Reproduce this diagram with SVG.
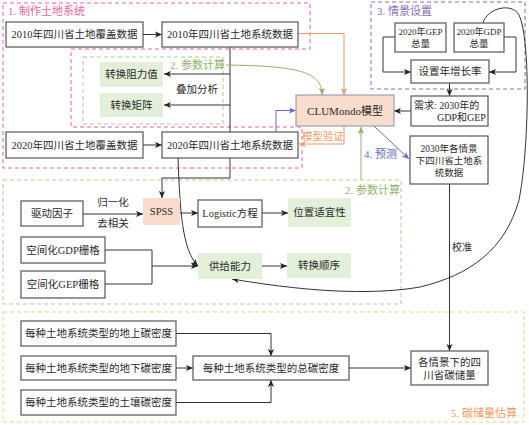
<svg xmlns="http://www.w3.org/2000/svg" width="529" height="425" viewBox="0 0 529 425">
<defs>
<style>
text{font-family:"Liberation Serif","Noto Sans CJK SC",serif;fill:#2a2a2a;dominant-baseline:central}
.t{font-size:10.5px;text-anchor:middle}
.s{font-size:9.5px;text-anchor:middle}
.box{fill:#fff;stroke:#555;stroke-width:1.2}
.gbox{fill:#e2efd9;stroke:none}
.pbox{fill:#f8ddcc;stroke:none}
.ln{fill:none;stroke:#333;stroke-width:1}
.grp{fill:none;stroke-width:1;stroke-dasharray:4 3}
.lbl{font-size:11px}
</style>
<marker id="ak" viewBox="0 0 8 8" refX="8" refY="4" markerWidth="7" markerHeight="7" markerUnits="userSpaceOnUse" orient="auto"><path d="M0,0.5 L8,4 L0,7.5 L2,4 Z" fill="#222"/></marker>
<marker id="ao" viewBox="0 0 8 8" refX="8" refY="4" markerWidth="7" markerHeight="7" markerUnits="userSpaceOnUse" orient="auto"><path d="M0,0.5 L8,4 L0,7.5 L2,4 Z" fill="#ef9a6a"/></marker>
<marker id="ag" viewBox="0 0 8 8" refX="8" refY="4" markerWidth="7" markerHeight="7" markerUnits="userSpaceOnUse" orient="auto"><path d="M0,0.5 L8,4 L0,7.5 L2,4 Z" fill="#8fb36a"/></marker>
<marker id="ab" viewBox="0 0 8 8" refX="8" refY="4" markerWidth="7" markerHeight="7" markerUnits="userSpaceOnUse" orient="auto"><path d="M0,0.5 L8,4 L0,7.5 L2,4 Z" fill="#5a6fc0"/></marker>
</defs>

<g id="groups">
<path class="grp" stroke="#e8619f" d="M3,3 H310 V49 H71 V127 H302 V168 H3 Z"/>
<text class="lbl" x="8" y="11" style="fill:#e8619f">1. 制作土地系统</text>
<rect class="grp" stroke="#b5c98f" x="83" y="57" width="140" height="67"/>
<text class="lbl" x="170" y="65" style="fill:#8fb36a">2. 参数计算</text>
<rect class="grp" stroke="#8a68b8" x="371" y="2" width="154" height="87"/>
<text class="lbl" x="377" y="10.5" style="fill:#8a68b8">3. 情景设置</text>
<rect class="grp" stroke="#b5c98f" x="3" y="180" width="398" height="124"/>
<text class="lbl" x="345" y="190" style="fill:#8fb36a">2. 参数计算</text>
<rect class="grp" stroke="#f2cf7e" stroke-dasharray="3 3" x="3" y="312" width="521" height="110"/>
<text class="lbl" x="451" y="413" style="fill:#ee9a63">5. 碳储量估算</text>
</g>

<g id="connectors">
<line class="ln" x1="143" y1="34.5" x2="162" y2="34.5" marker-end="url(#ak)"/>
<line class="ln" x1="143" y1="145" x2="162" y2="145" marker-end="url(#ak)"/>
<line class="ln" x1="230" y1="47" x2="230" y2="132"/>
<line class="ln" x1="230" y1="74" x2="164" y2="74" marker-end="url(#ak)"/>
<line class="ln" x1="230" y1="105" x2="164" y2="105" marker-end="url(#ak)"/>
<text x="197" y="89" class="t">叠加分析</text>
<path class="ln" d="M230,158 V178 H162 V198" marker-end="url(#ak)"/>
<path d="M298,33.5 H344 V95" fill="none" stroke="#ef9a6a" stroke-width="1" marker-end="url(#ao)"/>
<path d="M226,65 C300,66 322,72 322,95" fill="none" stroke="#8fb36a" stroke-width="1" marker-end="url(#ag)"/>
<path d="M276,132 V110.5 H296" fill="none" stroke="#5a6fc0" stroke-width="1" marker-end="url(#ab)"/>
<path d="M344,126 V144 H299" fill="none" stroke="#ef9a6a" stroke-width="1" marker-end="url(#ao)"/>
<text x="302" y="136" style="font-size:10.5px;fill:#ee9a63">模型验证</text>
<line x1="361" y1="180" x2="361" y2="127" stroke="#8fb36a" stroke-width="1" marker-end="url(#ag)"/>
<line x1="374" y1="126" x2="409" y2="159" stroke="#5a6fc0" stroke-width="1" marker-end="url(#ab)"/>
<text x="364" y="154" style="font-size:11px;fill:#5a6fc0">4. 预测</text>
<path class="ln" d="M395,37 H383 V72 H411" marker-end="url(#ak)"/>
<path class="ln" d="M504,37 H516 V72 H489" marker-end="url(#ak)"/>
<line class="ln" x1="449.5" y1="83" x2="449.5" y2="96" marker-end="url(#ak)"/>
<line class="ln" x1="411" y1="111" x2="394" y2="111" marker-end="url(#ak)"/>
<line class="ln" x1="449.5" y1="184" x2="449.5" y2="351" marker-end="url(#ak)"/>
<text x="452" y="247" style="font-size:10px">校准</text>
<path class="ln" d="M483,23 C487,8 512,2 519,15 C531,40 529,150 519,200 C505,250 470,275 420,287 C380,294 320,294 232,279" marker-end="url(#ak)"/>
<line class="ln" x1="83" y1="214" x2="143" y2="214" marker-end="url(#ak)"/>
<text x="113" y="202" class="t">归一化</text>
<text x="113" y="223" class="t">去相关</text>
<line class="ln" x1="180" y1="213" x2="198" y2="213" marker-end="url(#ak)"/>
<line class="ln" x1="262" y1="213" x2="288" y2="213" marker-end="url(#ak)"/>
<path class="ln" d="M105,250 H152 V284 H105"/>
<line class="ln" x1="152" y1="266" x2="198" y2="266" marker-end="url(#ak)"/>
<path class="ln" d="M178,158 C180,210 182,250 198,266" marker-end="url(#ak)"/>
<line class="ln" x1="262" y1="266" x2="287" y2="266" marker-end="url(#ak)"/>
<path class="ln" d="M176,333.5 H271 V356" marker-end="url(#ak)"/>
<line class="ln" x1="176" y1="368" x2="193" y2="368" marker-end="url(#ak)"/>
<path class="ln" d="M176,402.5 H271 V380" marker-end="url(#ak)"/>
<line class="ln" x1="349" y1="368" x2="411" y2="368" marker-end="url(#ak)"/>
</g>

<g id="n-cover2010"><rect class="box" x="6" y="22" width="137" height="25"/><text class="t" x="74.5" y="34.5">2010年四川省土地覆盖数据</text></g>
<g id="n-sys2010"><rect class="box" x="162" y="22" width="136" height="25"/><text class="t" x="230" y="34.5">2010年四川省土地系统数据</text></g>
<g id="n-resist"><rect class="gbox" x="100" y="62" width="63" height="25"/><text class="t" x="131.5" y="74.5">转换阻力值</text></g>
<g id="n-matrix"><rect class="gbox" x="100" y="93" width="63" height="24"/><text class="t" x="131.5" y="105">转换矩阵</text></g>
<g id="n-cover2020"><rect class="box" x="6" y="132" width="137" height="26"/><text class="t" x="74.5" y="145">2020年四川省土地覆盖数据</text></g>
<g id="n-sys2020"><rect class="box" x="162" y="132" width="136" height="26"/><text class="t" x="230" y="145">2020年四川省土地系统数据</text></g>
<g id="n-clumondo"><rect x="296" y="95" width="98" height="31" fill="#f8ddcc" stroke="#9aa2b4" stroke-width="1.2"/><text x="345" y="110.5" style="font-size:11px;text-anchor:middle">CLUMondo模型</text></g>
<g id="n-gep"><rect class="box" x="395" y="23" width="51" height="29"/><text class="s" x="420.5" y="32" style="font-size:9px">2020年GEP</text><text class="s" x="420.5" y="43.5">总量</text></g>
<g id="n-gdp"><rect class="box" x="454" y="23" width="50" height="29"/><text class="s" x="479" y="32" style="font-size:9px">2020年GDP</text><text class="s" x="479" y="43.5">总量</text></g>
<g id="n-rate"><rect class="box" x="411" y="60" width="78" height="23"/><text class="t" x="450" y="71.5">设置年增长率</text></g>
<g id="n-demand"><rect class="box" x="411" y="96" width="77" height="30"/><text x="414" y="105.5" style="font-size:10px">需求: 2030年的</text><text x="437" y="117.5" style="font-size:10px">GDP和GEP</text></g>
<g id="n-scen"><rect class="box" x="410" y="136" width="78" height="48"/><text class="s" x="449" y="149">2030年各情景</text><text class="s" x="449" y="161">下四川省土地系</text><text class="s" x="449" y="173">统数据</text></g>
<g id="n-driver"><rect class="box" x="21" y="201" width="62" height="25"/><text class="t" x="52" y="213.5">驱动因子</text></g>
<g id="n-spss"><rect class="pbox" x="143" y="198" width="37" height="27"/><text class="t" x="161.5" y="211.5">SPSS</text></g>
<g id="n-logistic"><rect class="box" x="198" y="200" width="64" height="27"/><text class="t" x="230" y="213.5">Logistic方程</text></g>
<g id="n-suit"><rect class="gbox" x="288" y="198" width="63" height="29"/><text class="t" x="319.5" y="212.5">位置适宜性</text></g>
<g id="n-gdpgrid"><rect class="box" x="21" y="237" width="84" height="26"/><text class="t" x="63" y="250">空间化GDP栅格</text></g>
<g id="n-gepgrid"><rect class="box" x="21" y="271" width="84" height="27"/><text class="t" x="63" y="284.5">空间化GEP栅格</text></g>
<g id="n-supply"><rect class="gbox" x="198" y="253" width="64" height="26"/><text class="t" x="230" y="266">供给能力</text></g>
<g id="n-order"><rect class="gbox" x="287" y="253" width="64" height="25"/><text class="t" x="319" y="265.5">转换顺序</text></g>
<g id="n-above"><rect class="box" x="21" y="321" width="155" height="25"/><text class="t" x="98.5" y="333.5">每种土地系统类型的地上碳密度</text></g>
<g id="n-below"><rect class="box" x="21" y="356" width="155" height="24"/><text class="t" x="98.5" y="368">每种土地系统类型的地下碳密度</text></g>
<g id="n-soil"><rect class="box" x="21" y="390" width="155" height="25"/><text class="t" x="98.5" y="402.5">每种土地系统类型的土壤碳密度</text></g>
<g id="n-total"><rect class="box" x="193" y="356" width="156" height="24"/><text class="t" x="271" y="368">每种土地系统类型的总碳密度</text></g>
<g id="n-storage"><rect class="box" x="411" y="351" width="77" height="34"/><text class="t" x="449.5" y="362">各情景下的四</text><text class="t" x="449.5" y="375.5">川省碳储量</text></g>
</svg>
